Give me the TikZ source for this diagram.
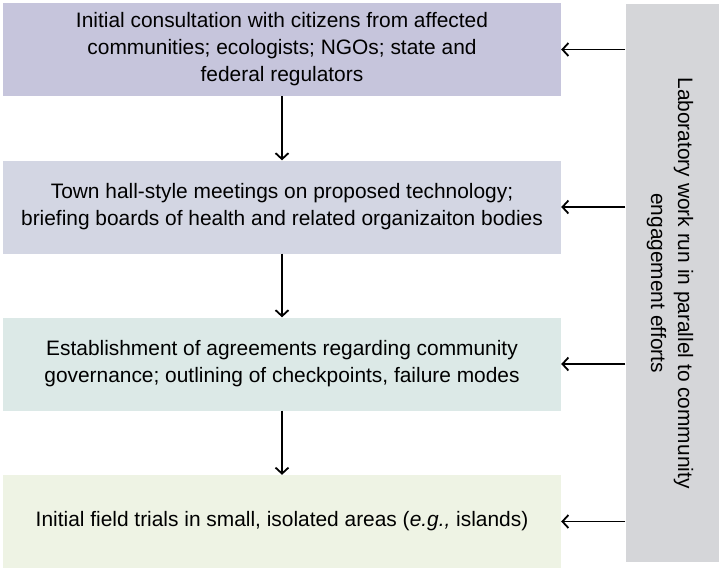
\documentclass[tikz,border=0pt]{standalone}
\usepackage{fontspec}
\setmainfont{Liberation Sans}
\usetikzlibrary{arrows.meta}
\definecolor{cA}{HTML}{C6C5DC}
\definecolor{cB}{HTML}{D3D6E3}
\definecolor{cC}{HTML}{DCE9E7}
\definecolor{cD}{HTML}{EEF3E4}
\definecolor{cR}{HTML}{D5D6D9}
\begin{document}
\begin{tikzpicture}[x=1pt,y=-1pt,
  stepbox/.style={minimum width=558pt,minimum height=93pt,inner sep=0pt,align=center,
    font=\fontsize{20.9}{27}\selectfont},
  conn/.style={-{Straight Barb[length=6pt,width=13pt]},line width=1.8pt}]
\useasboundingbox (0,0) rectangle (722,571);
\node[stepbox,fill=cA] (b1) at (282,49.5) {Initial consultation with citizens from affected\\communities; ecologists; NGOs; state and\\federal regulators};
\node[stepbox,fill=cB] (b2) at (282,207) {Town hall-style meetings on proposed technology;\\briefing boards of health and related organizaiton bodies};
\node[stepbox,fill=cC] (b3) at (282,364) {Establishment of agreements regarding community\\governance; outlining of checkpoints, failure modes};
\node[stepbox,fill=cD] (b4) at (282,521.5) {Initial field trials in small, isolated areas (\textit{e.g.,} islands)};
\node[fill=cR,minimum width=93pt,minimum height=558pt,inner sep=0pt] (r) at (672,283) {};
\node[rotate=-90,align=center,font=\fontsize{20.9}{27}\selectfont] (rt) at (670,283) {Laboratory work run in parallel to community\\engagement efforts};
\draw[conn] (b1.south) -- (b2.north);
\draw[conn] (b2.south) -- (b3.north);
\draw[conn] (b3.south) -- (b4.north);
\draw[conn] (r.west |- b1.east) -- (b1.east);
\draw[conn] (r.west |- b2.east) -- (b2.east);
\draw[conn] (r.west |- b3.east) -- (b3.east);
\draw[conn] (r.west |- b4.east) -- (b4.east);
\end{tikzpicture}
\end{document}
